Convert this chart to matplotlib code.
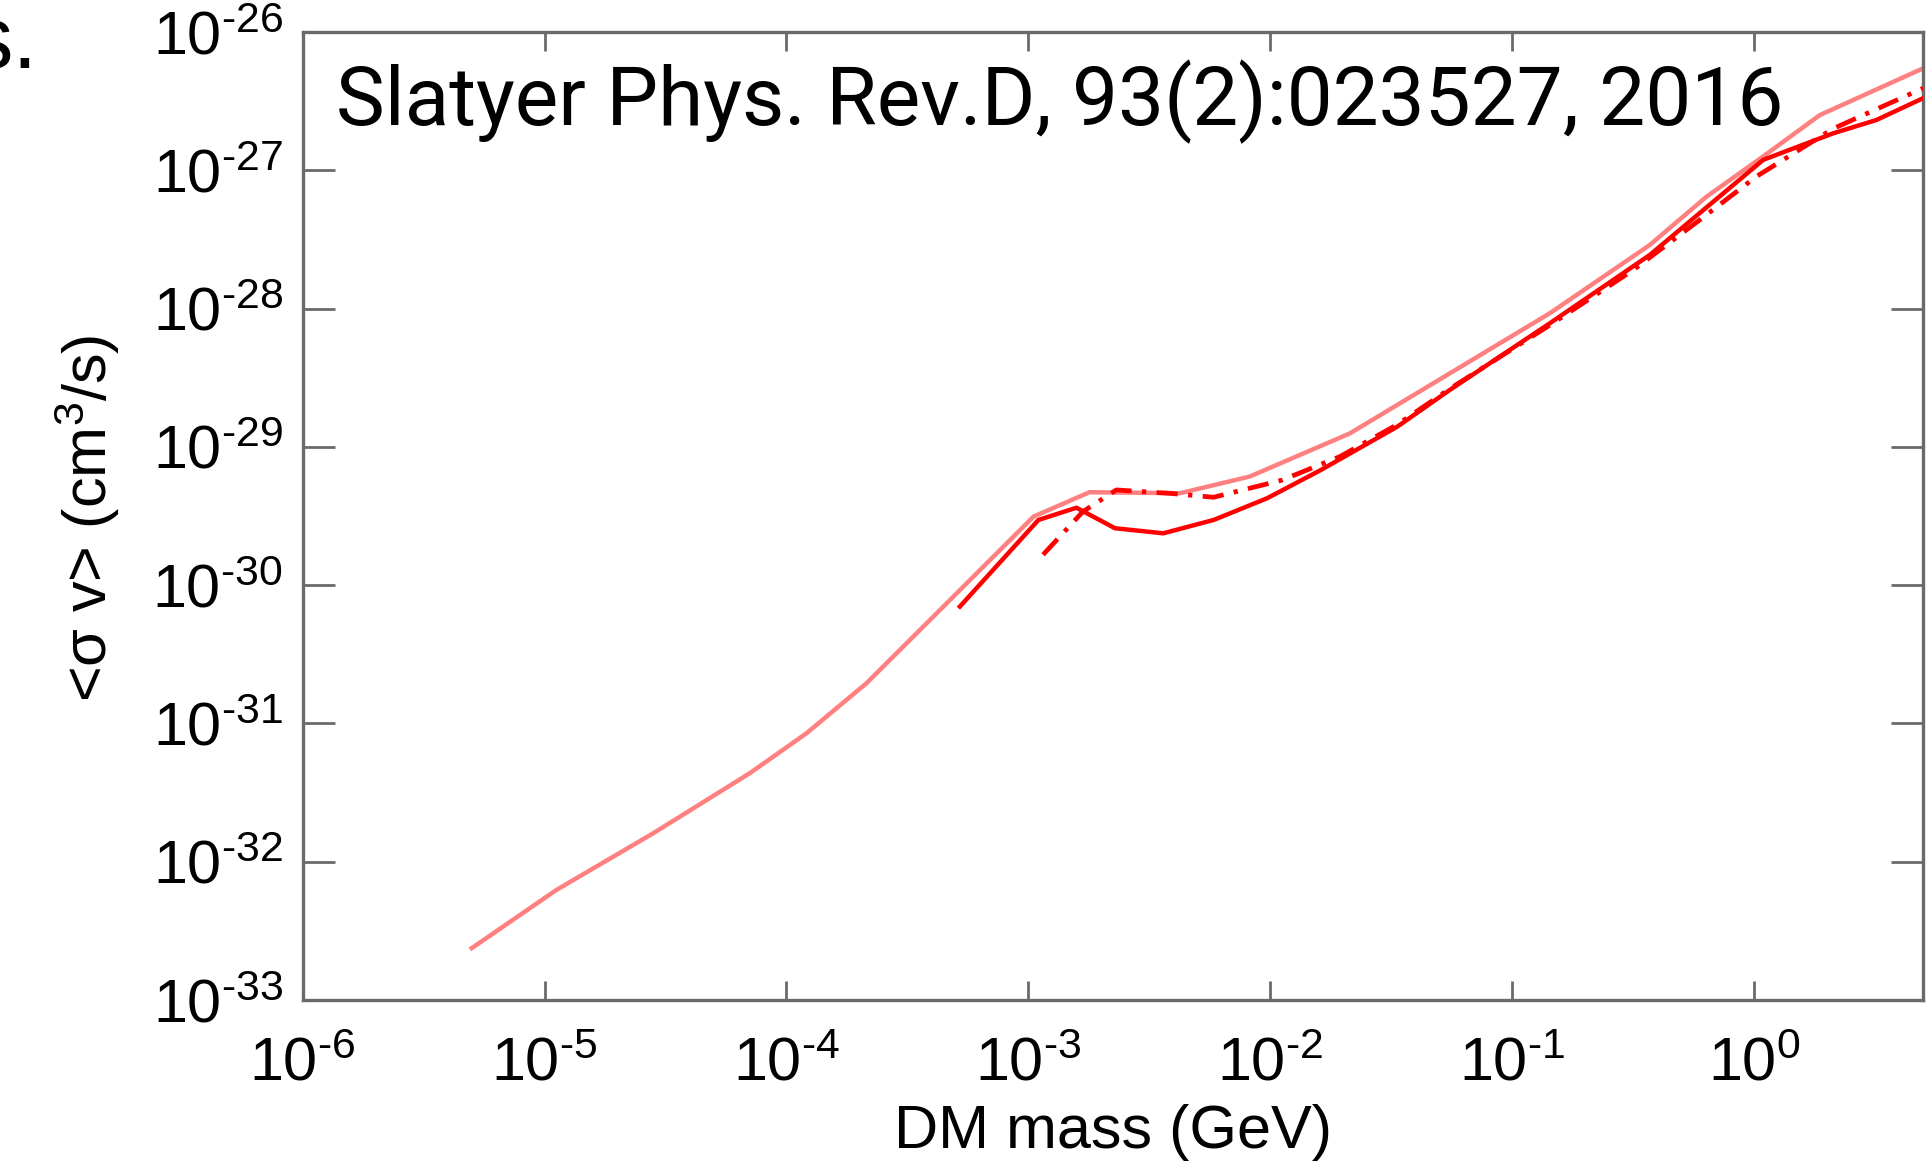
"""
Annihilation cross-section limit vs DM mass (Slatyer 2016 panel).
"""

import math

import matplotlib
matplotlib.use("Agg")
import matplotlib.pyplot as plt
from matplotlib.ticker import FixedLocator, FuncFormatter, NullLocator


# Light (pink) solid curve: DM mass (GeV) and <sigma v> (cm^3/s)
light_mass = [5.0e-6, 1.12e-5, 2.82e-5, 7.06e-5, 1.21e-4, 2.14e-4, 3.92e-4,
              1.05e-3, 1.79e-3, 4.23e-3, 8.22e-3, 2.13e-2, 5.52e-2, 0.143,
              0.370, 0.635, 1.09, 1.87, 4.99]
light_sv = [2.37e-33, 6.25e-33, 1.61e-32, 4.37e-32, 8.49e-32, 1.95e-31, 5.60e-31,
            3.13e-30, 4.70e-30, 4.62e-30, 6.10e-30, 1.25e-29, 3.40e-29, 9.25e-29,
            2.88e-28, 6.44e-28, 1.26e-27, 2.51e-27, 5.46e-27]

# Red solid curve
solid_mass = [5.21e-4, 1.10e-3, 1.58e-3, 2.28e-3, 3.61e-3, 5.83e-3, 9.70e-3,
              1.62e-2, 3.35e-2, 5.52e-2, 0.143, 0.370, 1.09, 2.12, 3.20, 4.99]
solid_sv = [7.00e-31, 2.96e-30, 3.63e-30, 2.58e-30, 2.37e-30, 2.96e-30, 4.25e-30,
            6.81e-30, 1.40e-29, 2.58e-29, 7.83e-29, 2.44e-28, 1.19e-27, 1.85e-27,
            2.31e-27, 3.32e-27]

# Red dash-dot curve
dashdot_mass = [1.15e-3, 1.68e-3, 2.31e-3, 3.85e-3, 5.83e-3, 1.12e-2, 1.94e-2,
                3.35e-2, 5.52e-2, 0.143, 0.316, 0.596, 1.02, 2.12, 4.99]
dashdot_sv = [1.66e-30, 3.40e-30, 4.88e-30, 4.61e-30, 4.32e-30, 5.75e-30, 8.51e-30,
              1.45e-29, 2.63e-29, 7.59e-29, 1.90e-28, 4.38e-28, 9.00e-28, 2.00e-27,
              3.92e-27]

x_tick_exps = [-6, -5, -4, -3, -2, -1, 0]
y_tick_exps = [-33, -32, -31, -30, -29, -28, -27, -26]

plt.rcParams["font.family"] = ["Liberation Sans", "DejaVu Sans"]
plt.rcParams["mathtext.fontset"] = "custom"
plt.rcParams["mathtext.rm"] = "Liberation Sans"
plt.rcParams["mathtext.it"] = "Liberation Sans"
plt.rcParams["mathtext.default"] = "regular"

AXIS_GRAY = "#6a6a6a"


def pow_label(v, pos):
    e = int(round(math.log10(v)))
    sign = "\u2010" if e < 0 else ""
    return r"$10^{%s%d}$" % (sign, abs(e))


fig = plt.figure(figsize=(19.31, 11.62), dpi=100)
ax = fig.add_axes([0.1567, 0.13941, 0.8393, 0.83305])

ax.plot(light_mass, light_sv, color="#ff8080", lw=3.2, solid_joinstyle="round", zorder=2)
ax.plot(solid_mass, solid_sv, color="#ff0000", lw=3.2, solid_joinstyle="round", zorder=3)
ax.plot(dashdot_mass, dashdot_sv, color="#ff0000", lw=3.4,
        dashes=(4.5, 2.2, 0.9, 2.2), zorder=3)

ax.set_xscale("log")
ax.set_yscale("log")
ax.set_xlim(1e-6, 5.0)
ax.set_ylim(1e-33, 1e-26)

ax.xaxis.set_major_locator(FixedLocator([10.0 ** e for e in x_tick_exps]))
ax.yaxis.set_major_locator(FixedLocator([10.0 ** e for e in y_tick_exps]))
ax.xaxis.set_minor_locator(NullLocator())
ax.yaxis.set_minor_locator(NullLocator())
ax.xaxis.set_major_formatter(FuncFormatter(pow_label))
ax.yaxis.set_major_formatter(FuncFormatter(pow_label))

for sp in ax.spines.values():
    sp.set_color(AXIS_GRAY)
    sp.set_linewidth(2.4)

ax.tick_params(axis="x", which="major", direction="in", top=True, bottom=True,
               length=13.5, width=2.0, color=AXIS_GRAY, labelsize=44, pad=26)
ax.tick_params(axis="y", which="major", direction="in", left=True, right=True,
               length=23, width=2.0, color=AXIS_GRAY, labelsize=44, pad=14)

ax.set_xlabel("DM mass (GeV)", fontsize=44, labelpad=8)
fig.text(87 / 1931, 1 - 518 / 1162, "<σ v> (cm$^3$/s)", rotation=90,
         ha="center", va="center", fontsize=44)

ax.text(0.0204, 0.904, "Slatyer Phys. Rev.D, 93(2):023527, 2016",
        transform=ax.transAxes, ha="left", va="baseline", fontsize=59,
        family=["Roboto", "Liberation Sans"], fontweight="normal")

# panel letter cut off at the left edge
fig.text(38 / 1931, 1 - 68 / 1162, "s.", ha="right", va="baseline", fontsize=64)

fig.savefig("out.png", dpi=100)
plt.close(fig)
